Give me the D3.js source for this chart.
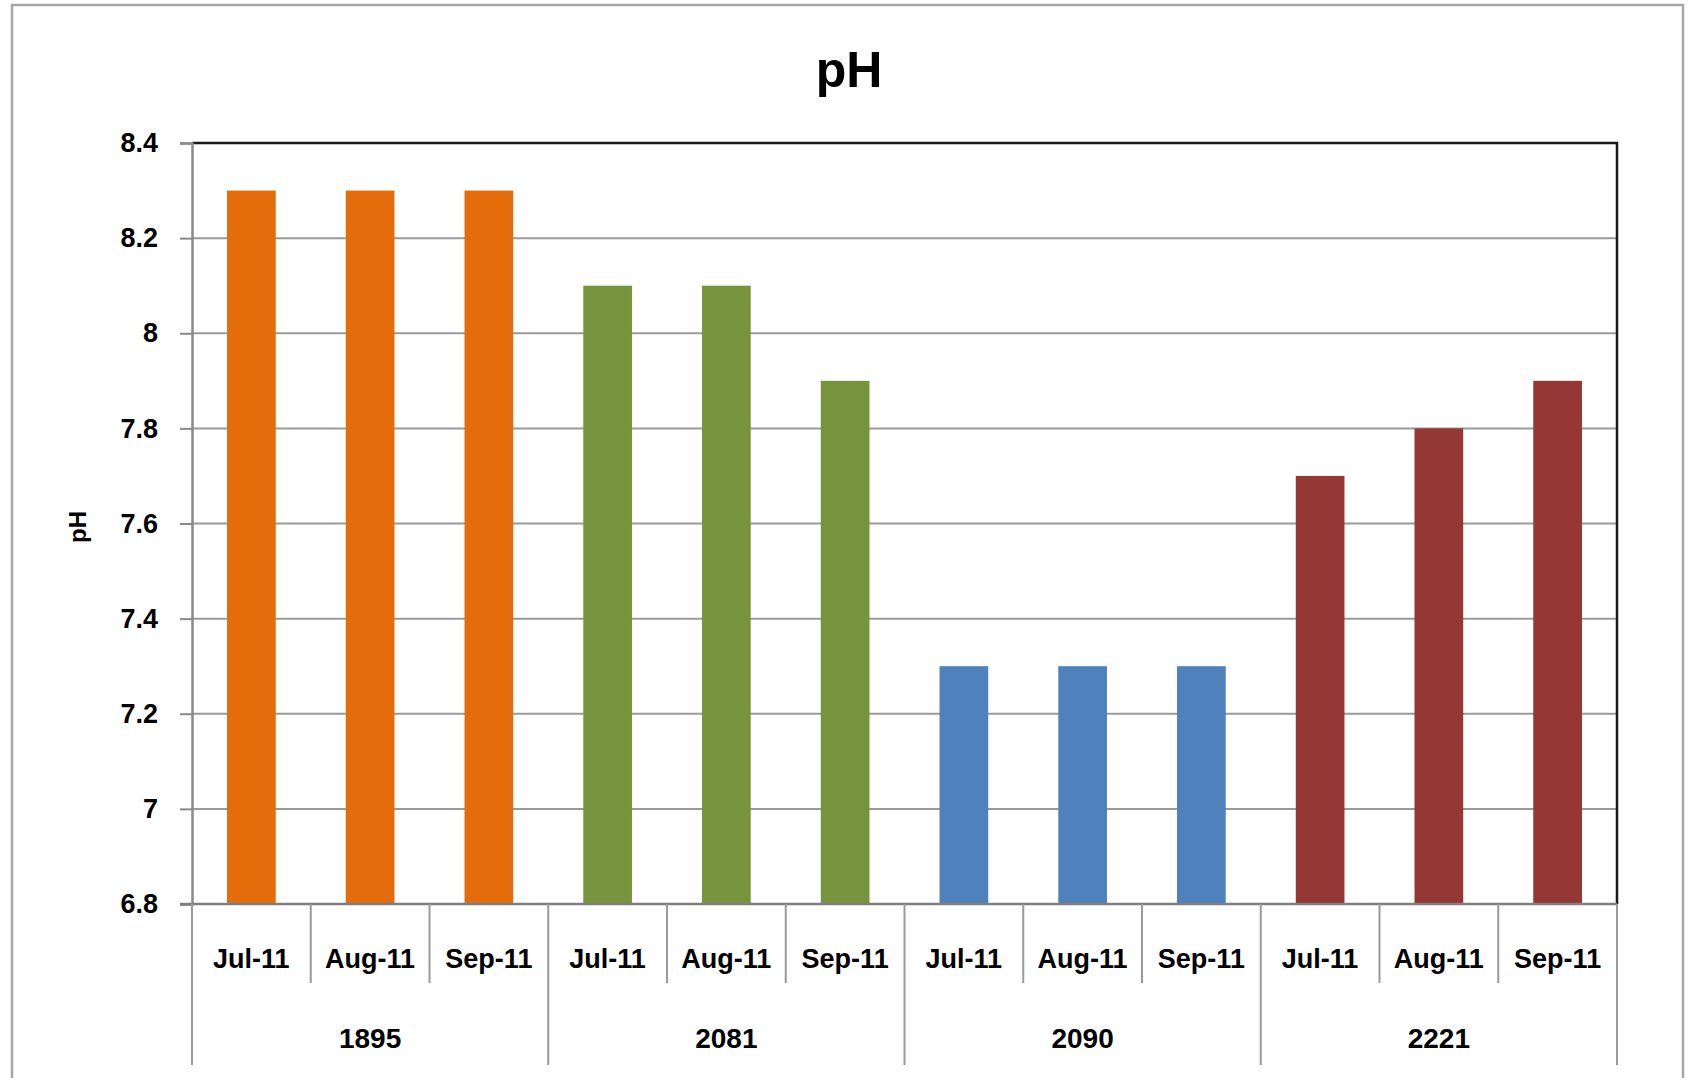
<!DOCTYPE html>
<html>
<head>
<meta charset="utf-8">
<script src="https://cdn.jsdelivr.net/npm/d3@7"></script>
<style>
  html, body { margin: 0; padding: 0; background: #fff; overflow: hidden; }
  svg { display: block; }
  text { font-family: "Liberation Sans", Arial, sans-serif; font-weight: bold; fill: #000; }
</style>
</head>
<body>
<svg id="chart" width="1689" height="1078"></svg>
<script>
// ---- data ----
const chartTitle = "pH";
const yAxisTitle = "pH";
const groups = ["1895", "2081", "2090", "2221"];
const months = ["Jul-11", "Aug-11", "Sep-11"];
const values1895 = [8.3, 8.3, 8.3];
const values2081 = [8.1, 8.1, 7.9];
const values2090 = [7.3, 7.3, 7.3];
const values2221 = [7.7, 7.8, 7.9];
const groupColors = ["#E46C0A", "#77933C", "#4F81BD", "#953735"];
const yTicks = [6.8, 7.0, 7.2, 7.4, 7.6, 7.8, 8.0, 8.2, 8.4];
const yTickLabels = ["6.8", "7", "7.2", "7.4", "7.6", "7.8", "8", "8.2", "8.4"];

const groupValues = [values1895, values2081, values2090, values2221];
const rows = [];
groups.forEach((g, gi) => {
  months.forEach((m, mi) => {
    rows.push({ key: g + "|" + m, group: g, gi, month: m, value: groupValues[gi][mi] });
  });
});

// ---- layout ----
const plot = { left: 192, top: 143, right: 1617, bottom: 904 };

const svg = d3.select("#chart");

// outer border (bottom edge runs off the picture)
svg.append("rect")
  .attr("x", 12).attr("y", 5).attr("width", 1671).attr("height", 1100)
  .attr("fill", "#fff").attr("stroke", "#a6a6a6").attr("stroke-width", 2.5);

const x = d3.scaleBand().domain(rows.map(d => d.key)).range([plot.left, plot.right]).padding(0);
const y = d3.scaleLinear().domain([6.8, 8.4]).range([plot.bottom, plot.top]);

// gridlines
svg.append("g")
  .selectAll("line")
  .data(yTicks.slice(1, -1))
  .join("line")
  .attr("x1", plot.left).attr("x2", plot.right)
  .attr("y1", d => y(d)).attr("y2", d => y(d))
  .attr("stroke", "#9a9a9a").attr("stroke-width", 2);

// bars
const barFrac = 0.41;
svg.append("g")
  .selectAll("rect")
  .data(rows)
  .join("rect")
  .attr("x", d => x(d.key) + x.bandwidth() * (1 - barFrac) / 2)
  .attr("width", x.bandwidth() * barFrac)
  .attr("y", d => y(d.value))
  .attr("height", d => y(6.8) - y(d.value))
  .attr("fill", d => groupColors[d.gi]);

// plot frame: top & right dark
svg.append("path")
  .attr("d", `M${plot.left},${plot.top}H${plot.right}V${plot.bottom}`)
  .attr("fill", "none").attr("stroke", "#1a1a1a").attr("stroke-width", 2.5);

// y axis
const yAxis = d3.axisLeft(y)
  .tickValues(yTicks)
  .tickFormat((d, i) => yTickLabels[i])
  .tickSize(12)
  .tickPadding(22);
const yg = svg.append("g").attr("transform", `translate(${plot.left},0)`).call(yAxis);
yg.select(".domain").attr("stroke", "#8a8a8a").attr("stroke-width", 2.5);
yg.selectAll(".tick line").attr("stroke", "#8a8a8a").attr("stroke-width", 2);
yg.selectAll(".tick text")
  .style("font-family", "'Liberation Sans', Arial, sans-serif")
  .style("font-weight", "bold")
  .style("font-size", "27px")
  .attr("fill", "#000");

// x axis line
svg.append("line")
  .attr("x1", plot.left - 12).attr("x2", plot.right)
  .attr("y1", plot.bottom).attr("y2", plot.bottom)
  .attr("stroke", "#7f7f7f").attr("stroke-width", 2.5);

// month separators (short) and group separators (long)
const sepG = svg.append("g");
rows.forEach((d, i) => {
  if (i === 0) return;
  const isGroup = i % months.length === 0;
  sepG.append("line")
    .attr("x1", x(d.key)).attr("x2", x(d.key))
    .attr("y1", plot.bottom).attr("y2", isGroup ? 1065 : 983)
    .attr("stroke", "#9a9a9a").attr("stroke-width", 2);
});
[plot.left, plot.right].forEach(px => {
  sepG.append("line")
    .attr("x1", px).attr("x2", px)
    .attr("y1", plot.bottom).attr("y2", 1065)
    .attr("stroke", "#9a9a9a").attr("stroke-width", 2);
});

// month labels
svg.append("g")
  .selectAll("text")
  .data(rows)
  .join("text")
  .attr("x", d => x(d.key) + x.bandwidth() / 2)
  .attr("y", 968)
  .attr("text-anchor", "middle")
  .style("font-size", "27px")
  .text(d => d.month);

// group labels
svg.append("g")
  .selectAll("text")
  .data(groups)
  .join("text")
  .attr("x", g => {
    const first = x(g + "|" + months[0]);
    const last = x(g + "|" + months[months.length - 1]) + x.bandwidth();
    return (first + last) / 2;
  })
  .attr("y", 1048)
  .attr("text-anchor", "middle")
  .style("font-size", "28px")
  .text(d => d);

// title
svg.append("text")
  .attr("x", 849).attr("y", 87)
  .attr("text-anchor", "middle")
  .style("font-size", "50px")
  .text(chartTitle);

// y axis title
svg.append("text")
  .attr("transform", "translate(86,527) rotate(-90)")
  .attr("text-anchor", "middle")
  .style("font-size", "24px")
  .text(yAxisTitle);
</script>
</body>
</html>
